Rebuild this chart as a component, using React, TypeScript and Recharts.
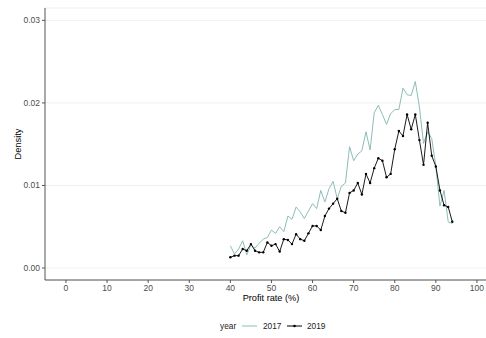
import { LineChart, Line, XAxis, YAxis, CartesianGrid } from 'recharts';

// profit rate (%) on the x axis, one density value per integer rate
const rates = [
  40, 41, 42, 43, 44, 45, 46, 47, 48, 49,
  50, 51, 52, 53, 54, 55, 56, 57, 58, 59,
  60, 61, 62, 63, 64, 65, 66, 67, 68, 69,
  70, 71, 72, 73, 74, 75, 76, 77, 78, 79,
  80, 81, 82, 83, 84, 85, 86, 87, 88, 89,
  90, 91, 92, 93, 94,
];

const density2017 = [
  0.0027, 0.0017, 0.0023, 0.0033, 0.0016, 0.0028, 0.0024, 0.003, 0.0035, 0.0037,
  0.0046, 0.0042, 0.005, 0.0044, 0.0063, 0.0059, 0.0074, 0.0068, 0.006, 0.0069,
  0.0078, 0.0072, 0.0094, 0.008, 0.0096, 0.0105, 0.0084, 0.0099, 0.0103, 0.0147,
  0.013, 0.0138, 0.0142, 0.0165, 0.0143, 0.0188, 0.0197, 0.0186, 0.0174, 0.0187,
  0.0192, 0.0192, 0.0218, 0.021, 0.0209, 0.0226, 0.0195, 0.0151, 0.0165, 0.0157,
  0.0123, 0.0075, 0.0094, 0.0056, 0.0054,
];

const density2019 = [
  0.0013, 0.0015, 0.0015, 0.0023, 0.0021, 0.0029, 0.0021, 0.0019, 0.0019, 0.0031,
  0.0027, 0.0029, 0.002, 0.0035, 0.0034, 0.0029, 0.0041, 0.0035, 0.0033, 0.0042,
  0.0051, 0.0051, 0.0046, 0.0063, 0.0072, 0.0078, 0.0084, 0.0069, 0.0067, 0.0091,
  0.0094, 0.0103, 0.0089, 0.0114, 0.0103, 0.0121, 0.0133, 0.013, 0.011, 0.0114,
  0.0144, 0.0166, 0.016, 0.0186, 0.0168, 0.0186, 0.0155, 0.0125, 0.0176, 0.0136,
  0.0123, 0.0094, 0.0076, 0.0074, 0.0056,
];

const xTicks = [0, 10, 20, 30, 40, 50, 60, 70, 80, 90, 100];
const yTicks = [0, 0.01, 0.02, 0.03];

const COLOR_2017 = '#8dbdb8';
const COLOR_2019 = '#000000';
const FONT = '"Liberation Sans", Arial, sans-serif';

const data = rates.map((x, i) => ({ x, y2017: density2017[i], y2019: density2019[i] }));

const YTitle = (props: any) => {
  const { viewBox } = props;
  const cx = viewBox.x + 18;
  const cy = viewBox.y + viewBox.height / 2;
  return (
    <text x={cx} y={cy} transform={`rotate(-90 ${cx} ${cy})`} textAnchor="middle"
      dominantBaseline="central" fontSize={9.3} fill="#000" fontFamily={FONT}>
      Density
    </text>
  );
};

// the panel runs a little past the right edge, so its centre sits right of the visible middle
const XTitle = (props: any) => {
  const { viewBox } = props;
  return (
    <text x={viewBox.x + (viewBox.width + 11) / 2} y={viewBox.y + 21} textAnchor="middle"
      fontSize={9.2} fill="#000" fontFamily={FONT}>
      Profit rate (%)
    </text>
  );
};

export default function App() {
  return (
    <div style={{ position: 'absolute', left: 0, top: 0, width: 486, height: 338, background: '#fff', fontFamily: FONT }}>
      <LineChart width={486} height={338} data={data} margin={{ top: 8, right: 0, left: 0, bottom: 28 }}>
        <CartesianGrid vertical={false} stroke="#ebebeb" strokeWidth={0.8} />
        <XAxis
          type="number"
          dataKey="x"
          domain={[-5.1, 102.2]}
          ticks={xTicks}
          allowDataOverflow
          height={30}
          tickSize={3}
          tickMargin={2}
          axisLine={{ stroke: '#555', strokeWidth: 1 }}
          tickLine={{ stroke: '#555' }}
          tick={{ fontSize: 8.5, fill: '#4d4d4d', fontFamily: FONT }}
          label={{ content: XTitle }}
        />
        <YAxis
          type="number"
          domain={[-0.00145, 0.0315]}
          ticks={yTicks}
          allowDataOverflow
          width={45}
          tickSize={3}
          tickMargin={2}
          tickFormatter={(v: number) => v.toFixed(2)}
          axisLine={{ stroke: '#555', strokeWidth: 1 }}
          tickLine={{ stroke: '#555' }}
          tick={{ fontSize: 8.5, fill: '#4d4d4d', fontFamily: FONT }}
          label={{ content: YTitle }}
        />
        <Line type="linear" dataKey="y2017" stroke={COLOR_2017} strokeWidth={1} dot={false} isAnimationActive={false} />
        <Line type="linear" dataKey="y2019" stroke={COLOR_2019} strokeWidth={0.9}
          dot={{ r: 1.2, fill: COLOR_2019, stroke: 'none' }} isAnimationActive={false} />
      </LineChart>
      <svg width={486} height={20} style={{ position: 'absolute', left: 0, top: 316 }}>
        <text x={220} y={13} fontSize={8.3} fill="#222" fontFamily={FONT}>year</text>
        <line x1={242} y1={10} x2={257} y2={10} stroke={COLOR_2017} strokeWidth={1} />
        <text x={263} y={13} fontSize={8.3} fill="#222" fontFamily={FONT}>2017</text>
        <line x1={287} y1={10} x2={302} y2={10} stroke={COLOR_2019} strokeWidth={1} />
        <circle cx={294.5} cy={10} r={1.3} fill={COLOR_2019} />
        <text x={307} y={13} fontSize={8.3} fill="#222" fontFamily={FONT}>2019</text>
      </svg>
    </div>
  );
}
